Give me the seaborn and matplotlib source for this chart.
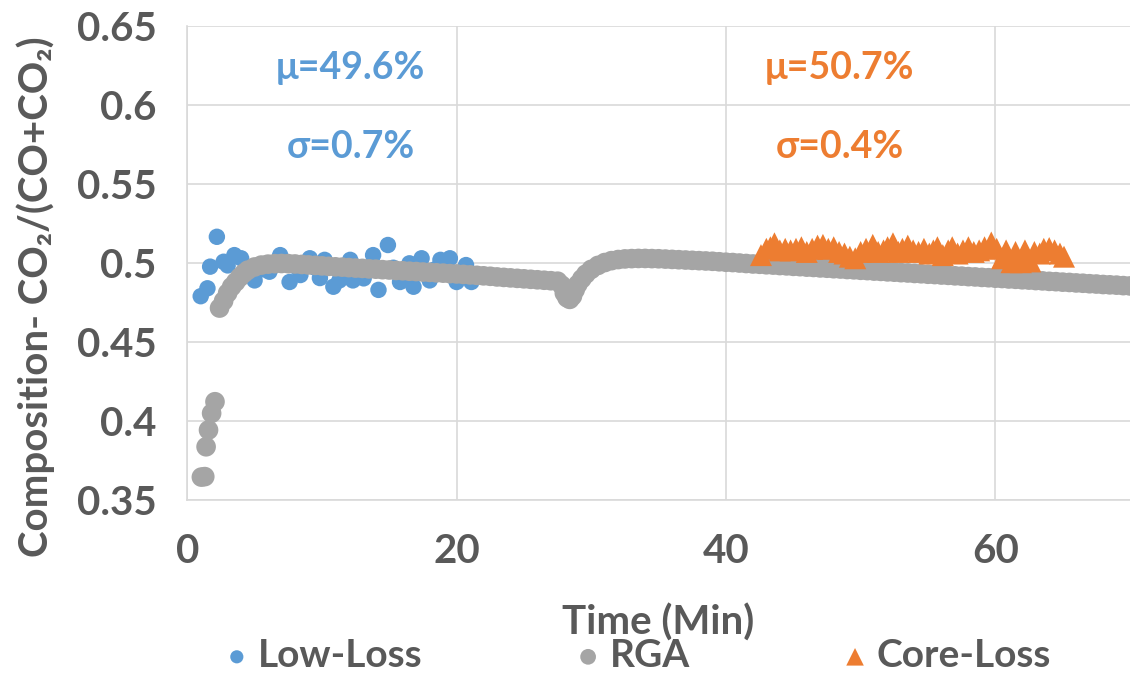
import matplotlib
matplotlib.use("Agg")
import matplotlib.pyplot as plt
import seaborn as sns
import pandas as pd

# ---------------- data ----------------
low_t = [1.0, 1.5, 1.7, 2.2, 2.7, 3.0, 3.5, 4.0, 4.5, 5.0, 5.6, 6.1, 6.9, 7.6, 8.0,
         8.4, 9.1, 9.5, 9.85, 10.2, 10.85, 11.3, 11.7, 12.1, 12.3, 12.7, 13.1, 13.8,
         14.2, 14.9, 15.3, 15.8, 16.5, 16.8, 17.4, 18.0, 18.4, 18.8, 19.5, 20.0,
         20.7, 21.1]
low_v = [0.479, 0.484, 0.4977, 0.5166, 0.5008, 0.4985, 0.505, 0.503, 0.4975, 0.489,
         0.496, 0.4945, 0.505, 0.488, 0.498, 0.4924, 0.503, 0.497, 0.4905, 0.502,
         0.485, 0.489, 0.496, 0.502, 0.489, 0.497, 0.4903, 0.505, 0.483, 0.5114,
         0.497, 0.488, 0.4998, 0.485, 0.503, 0.489, 0.496, 0.502, 0.503, 0.488,
         0.4987, 0.488]

rga_t = [1.05, 1.3, 1.4, 1.58, 1.81, 2.06,
         2.4, 2.7, 3.0, 3.3, 3.6, 3.9, 4.2, 4.5, 5.0, 5.5, 6.0, 6.5, 7.0, 7.5, 8.0,
         8.5, 9.0, 9.5, 10.0, 10.5, 11.0, 11.5, 12.0, 12.5, 13.0, 13.5, 14.0, 14.5,
         15.0, 15.5, 16.0, 16.5, 17.0, 17.5, 18.0, 18.5, 19.0, 19.5, 20.0, 20.5,
         21.0, 21.5, 22.0, 22.5, 23.0, 23.5, 24.0, 24.5, 25.0, 25.5, 26.0, 26.5,
         27.0, 27.5, 27.8, 28.0, 28.2, 28.4, 28.6, 28.8, 29.0, 29.3, 29.6, 30.0,
         30.5, 31.0, 31.5, 32.0, 32.5, 33.0, 33.5, 34.0, 34.5, 35.0, 35.5, 36.0,
         36.5, 37.0, 37.5, 38.0, 38.5, 39.0, 39.5, 40.0, 40.5, 41.0, 41.5, 42.0,
         42.5, 43.0, 43.5, 44.0, 44.5, 45.0, 45.5, 46.0, 46.5, 47.0, 47.5, 48.0,
         48.5, 49.0, 49.5, 50.0, 50.5, 51.0, 51.5, 52.0, 52.5, 53.0, 53.5, 54.0,
         54.5, 55.0, 55.5, 56.0, 56.5, 57.0, 57.5, 58.0, 58.5, 59.0, 59.5, 60.0,
         60.5, 61.0, 61.5, 62.0, 62.5, 63.0, 63.5, 64.0, 64.5, 65.0, 65.5, 66.0,
         66.5, 67.0, 67.5, 68.0, 68.5, 69.0, 69.5, 70.0]
rga_v = [0.3645, 0.3648, 0.3837, 0.3943, 0.4049, 0.4122,
         0.4715, 0.476, 0.481, 0.485, 0.488, 0.491, 0.4935, 0.4955, 0.4975, 0.4987,
         0.4993, 0.4996, 0.4997, 0.4996, 0.4994, 0.4991, 0.4988, 0.4985, 0.4982,
         0.4979, 0.4976, 0.4974, 0.4971, 0.4968, 0.4966, 0.4963, 0.4961, 0.4958,
         0.4956, 0.4953, 0.4951, 0.4948, 0.4946, 0.4943, 0.4941, 0.4938, 0.4936,
         0.4933, 0.4931, 0.4928, 0.4925, 0.4922, 0.4919, 0.4916, 0.4912, 0.4909,
         0.4906, 0.4903, 0.4900, 0.4897, 0.4894, 0.4891, 0.4888, 0.4885, 0.4860,
         0.4810, 0.4780, 0.4770, 0.4790, 0.4830, 0.4865, 0.4900, 0.4930, 0.4960,
         0.4985, 0.5003, 0.5015, 0.5022, 0.5026, 0.5028, 0.5029, 0.5029, 0.5028,
         0.5027, 0.5025, 0.5023, 0.5021, 0.5019, 0.5017, 0.5015, 0.5013, 0.5011,
         0.5008, 0.5005, 0.5003, 0.5000, 0.4997, 0.4994, 0.4992, 0.4989, 0.4987,
         0.4984, 0.4982, 0.4979, 0.4977, 0.4974, 0.4972, 0.4969, 0.4967, 0.4964,
         0.4962, 0.4959, 0.4957, 0.4954, 0.4952, 0.4949, 0.4947, 0.4944, 0.4942,
         0.4939, 0.4937, 0.4934, 0.4932, 0.4929, 0.4927, 0.4924, 0.4922, 0.4919,
         0.4917, 0.4914, 0.4912, 0.4909, 0.4907, 0.4904, 0.4902, 0.4899, 0.4897,
         0.4894, 0.4892, 0.4889, 0.4887, 0.4884, 0.4882, 0.4879, 0.4877, 0.4874,
         0.4872, 0.4869, 0.4867, 0.4864, 0.4862, 0.4860, 0.4857, 0.4855]

core_t = [42.6, 43.0, 43.3, 43.6, 44.0, 44.4, 44.8, 45.2, 45.6, 46.0, 46.4, 46.8,
          47.2, 47.6, 48.0, 48.4, 48.8, 49.2, 49.6, 50.0, 50.4, 50.9, 51.3, 51.7,
          52.0, 52.4, 52.8, 53.1, 53.5, 53.9, 54.3, 54.7, 55.1, 55.4, 55.7, 56.1,
          56.5, 56.8, 57.2, 57.6, 58.0, 58.4, 58.8, 59.2, 59.7, 60.1, 60.5, 60.8,
          61.2, 61.5, 61.9, 62.2, 62.6, 62.9, 63.3, 63.6, 64.0, 64.4, 64.8, 65.1]
core_v = [0.505, 0.509, 0.510, 0.5125, 0.508, 0.509, 0.508, 0.509, 0.510, 0.507,
          0.509, 0.511, 0.5115, 0.509, 0.510, 0.507, 0.506, 0.504, 0.503, 0.507,
          0.509, 0.5115, 0.507, 0.508, 0.510, 0.5125, 0.507, 0.509, 0.511, 0.508,
          0.507, 0.509, 0.506, 0.508, 0.510, 0.505, 0.508, 0.510, 0.506, 0.508,
          0.510, 0.507, 0.508, 0.510, 0.513, 0.509, 0.503, 0.508, 0.5005, 0.507,
          0.5005, 0.508, 0.501, 0.507, 0.506, 0.509, 0.5095, 0.508, 0.506, 0.504]

series_names = ["Low-Loss", "RGA", "Core-Loss"]
colors = ["#5B9BD5", "#A5A5A5", "#ED7D31"]
x_ticks = [0, 20, 40, 60]
y_ticks = [0.35, 0.4, 0.45, 0.5, 0.55, 0.6, 0.65]
y_tick_labels = ["0.35", "0.4", "0.45", "0.5", "0.55", "0.6", "0.65"]
stats = [("μ=49.6%", "σ=0.7%"), ("μ=50.7%", "σ=0.4%")]

# ---------------- style ----------------
sns.set_style("white")
plt.rcParams["font.family"] = ["Lato", "DejaVu Sans"]
TXT = "#595959"

fig = plt.figure(figsize=(11.3, 6.8), dpi=100)
ax = fig.add_axes([0.1657, 0.2647, 0.8343, 0.697])

df_low = pd.DataFrame({"t": low_t, "v": low_v})
df_rga = pd.DataFrame({"t": rga_t, "v": rga_v})
df_core = pd.DataFrame({"t": core_t, "v": core_v})

sns.scatterplot(data=df_low, x="t", y="v", ax=ax, color=colors[0], s=140,
                marker="o", edgecolor="none", label=series_names[0], zorder=3)
sns.scatterplot(data=df_rga, x="t", y="v", ax=ax, color=colors[1], s=200,
                marker="o", edgecolor="none", label=series_names[1], zorder=4)
sns.scatterplot(data=df_core, x="t", y="v", ax=ax, color=colors[2], s=250,
                marker="^", edgecolor="none", label=series_names[2], zorder=5)

ax.set_xlim(0, 70)
ax.set_ylim(0.35, 0.65)
ax.set_xticks(x_ticks)
ax.set_yticks(y_ticks)
ax.set_yticklabels(y_tick_labels)
ax.grid(True, color="#D9D9D9", linewidth=1.2)
ax.set_axisbelow(True)
for side in ["top", "right"]:
    ax.spines[side].set_visible(False)
for side in ["left", "bottom"]:
    ax.spines[side].set_color("#D9D9D9")
    ax.spines[side].set_linewidth(1.2)
ax.tick_params(axis="both", length=0, labelsize=29, labelcolor=TXT)
ax.tick_params(axis="x", pad=24)
ax.tick_params(axis="y", pad=22)
for lbl in ax.get_xticklabels() + ax.get_yticklabels():
    lbl.set_fontweight("bold")

ax.set_xlabel("Time (Min)", fontsize=29, fontweight="bold", color=TXT)
ax.set_ylabel("Composition- CO₂/(CO+CO₂)", fontsize=29, fontweight="bold",
              color=TXT)
ax.xaxis.set_label_coords(0.5, -0.258)
ax.xaxis.label.set_va("center")
ax.yaxis.set_label_coords(-0.161, 0.428)
ax.yaxis.label.set_va("center")

for (mu, sd), xpos, col in zip(stats, [12.15, 48.45], [colors[0], colors[2]]):
    ax.text(xpos, 0.6234, mu, color=col, fontsize=27, fontweight="bold",
            ha="center", va="center")
    ax.text(xpos, 0.5734, sd, color=col, fontsize=27, fontweight="bold",
            ha="center", va="center")

ax.legend_.remove()
handles, labels = ax.get_legend_handles_labels()
leg = fig.legend(handles, labels, loc="center", ncol=3,
                 bbox_to_anchor=(0.562, 0.036), frameon=False,
                 fontsize=28, markerscale=0.8, handletextpad=0.1,
                 columnspacing=3.8, handlelength=0.9, borderpad=0.0)
for t in leg.get_texts():
    t.set_color(TXT)
    t.set_fontweight("bold")

fig.savefig("out.png", dpi=100)
